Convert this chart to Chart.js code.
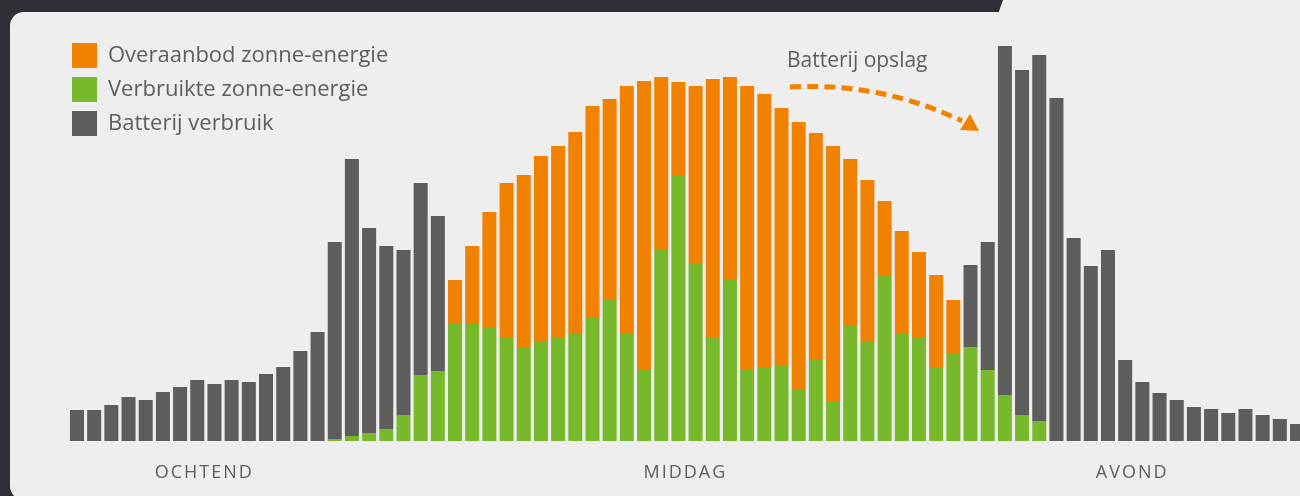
<!DOCTYPE html>
<html lang="nl">
<head>
<meta charset="utf-8">
<title>Zonne-energie en batterij</title>
<script src="https://cdn.jsdelivr.net/npm/chart.js@4"></script>
<style>
  html, body { margin: 0; padding: 0; }
  body { width: 1300px; height: 496px; overflow: hidden; background: #2f3035; position: relative; font-family: 'Open Sans', sans-serif; }
  #panel { position: absolute; left: 10px; top: 12px; width: 1320px; height: 488px; background: #eeeeee; border-radius: 14px; }
  #panelTop { position: absolute; left: 990px; top: 0; width: 330px; height: 14px; background: #eeeeee;
              clip-path: polygon(13px 0, 100% 0, 100% 100%, 8px 100%); }
  #wrap { position: absolute; left: 0; top: 0; width: 1320px; height: 496px; }
  #note { position: absolute; left: 787px; top: 48.5px; font-size: 21px; line-height: 1; color: #5e5e5e; white-space: nowrap; }
</style>
</head>
<body>
<div id="panel"></div>
<div id="panelTop"></div>
<div id="wrap"><canvas id="c"></canvas></div>
<div id="note">Batterij opslag</div>
<script>
// ---- data ----
const slots = ['00:00','00:20','00:40','01:00','01:20','01:40','02:00','02:20','02:40','03:00','03:20','03:40',
  '04:00','04:20','04:40','05:00','05:20','05:40','06:00','06:20','06:40','07:00','07:20','07:40',
  '08:00','08:20','08:40','09:00','09:20','09:40','10:00','10:20','10:40','11:00','11:20','11:40',
  '12:00','12:20','12:40','13:00','13:20','13:40','14:00','14:20','14:40','15:00','15:20','15:40',
  '16:00','16:20','16:40','17:00','17:20','17:40','18:00','18:20','18:40','19:00','19:20','19:40',
  '20:00','20:20','20:40','21:00','21:20','21:40','22:00','22:20','22:40','23:00','23:20','23:40'];

const periodLabels = ['OCHTEND', 'MIDDAG', 'AVOND'];
const periodSlots = ['02:20', '11:40', '20:20'];

const seriesNames = ['Overaanbod zonne-energie', 'Verbruikte zonne-energie', 'Batterij verbruik'];

const consumedSolar = [0,0,0,0,0,0,0,0,0,0,0,0,0,0,0,
  2,5,8,12,26,66,70,117,117,114,104,94,100,103,107,123,141,107,72,191,266,178,104,161,71,73,75,52,81,40,116,99,165,107,103,73,88,94,71,46,26,20,
  0,0,0,0,0,0,0,0,0,0,0,0,0,0,0];

const batteryUse = [31,31,36,44,41,49,54,61,57,61,59,67,74,90,109,
  197,277,205,183,165,192,155,
  0,0,0,0,0,0,0,0,0,0,0,0,0,0,0,0,0,0,0,0,0,0,0,0,0,0,0,0,0,0,
  82,128,349,345,366,
  343,203,175,191,81,59,48,41,34,32,28,32,26,22,17];

const surplusSolar = [0,0,0,0,0,0,0,0,0,0,0,0,0,0,0,0,0,0,0,0,0,0,
  44,78,115,154,172,185,192,202,212,201,248,288,173,93,177,258,203,284,274,258,267,227,255,166,162,75,103,86,93,53,
  0,0,0,0,0,0,0,0,0,0,0,0,0,0,0,0,0,0,0,0];

// ---- styles ----
const ORANGE = '#f08200', GREEN = '#78b82b', GRAY = '#5d5d5b', TEXT = '#5e5e5e';
Chart.defaults.font.family = "'Open Sans', sans-serif";

const legendRank = [1, 2, 0]; // dataset index -> legend position

const legendPlace = {
  id: 'legendPlace',
  afterLayout(chart) {
    if (chart.legend) { chart.legend.left = 63; chart.legend.top = 34; }
    const s = chart.scales.x;
    if (s && !s._spaced) {
      const orig = s.drawLabels;
      s.drawLabels = function (area) {
        const c = this.ctx; c.save(); c.letterSpacing = '2px'; orig.call(this, area); c.restore();
      };
      s._spaced = true;
    }
  }
};

const arrowNote = {
  id: 'arrowNote',
  afterDraw(chart) {
    const ctx = chart.ctx;
    ctx.save();
    ctx.strokeStyle = ORANGE; ctx.fillStyle = ORANGE;
    ctx.lineWidth = 5; ctx.lineCap = 'butt';
    ctx.setLineDash([11, 6.2]);
    ctx.beginPath();
    ctx.moveTo(790, 87);
    ctx.quadraticCurveTo(880, 82, 962, 121);
    ctx.stroke();
    ctx.setLineDash([]);
    ctx.beginPath();
    ctx.moveTo(960, 130); ctx.lineTo(979, 131); ctx.lineTo(970, 114); ctx.closePath();
    ctx.fill();
    ctx.restore();
  }
};

new Chart(document.getElementById('c'), {
  type: 'bar',
  data: {
    labels: slots,
    datasets: [
      { label: seriesNames[1], data: consumedSolar, backgroundColor: GREEN },
      { label: seriesNames[2], data: batteryUse, backgroundColor: GRAY },
      { label: seriesNames[0], data: surplusSolar, backgroundColor: ORANGE }
    ]
  },
  options: {
    responsive: true,
    maintainAspectRatio: false,
    animation: false,
    datasets: { bar: { barPercentage: 0.815, categoryPercentage: 1.0, borderWidth: 0 } },
    layout: { padding: { left: 68.4, right: 14.4, top: 41, bottom: 15 } },
    plugins: {
      tooltip: { enabled: false },
      legend: {
        position: 'chartArea',
        align: 'start',
        labels: {
          boxWidth: 25, boxHeight: 25, padding: 9, color: TEXT,
          font: { size: 22 },
          sort: (a, b) => legendRank[a.datasetIndex] - legendRank[b.datasetIndex]
        }
      }
    },
    scales: {
      x: {
        stacked: true,
        offset: true,
        grid: { display: false, drawTicks: false },
        border: { display: false },
        ticks: {
          autoSkip: false, maxRotation: 0, minRotation: 0,
          padding: 21, labelOffset: 7, color: TEXT,
          font: { size: 18 },
          callback: function (v, i) {
            const k = periodSlots.indexOf(slots[i]);
            return k >= 0 ? periodLabels[k] : '';
          }
        },
        afterFit(s) { s.height = 40; }
      },
      y: { stacked: true, display: false, min: 0, max: 400 }
    }
  },
  plugins: [legendPlace, arrowNote]
});
</script>
</body>
</html>
